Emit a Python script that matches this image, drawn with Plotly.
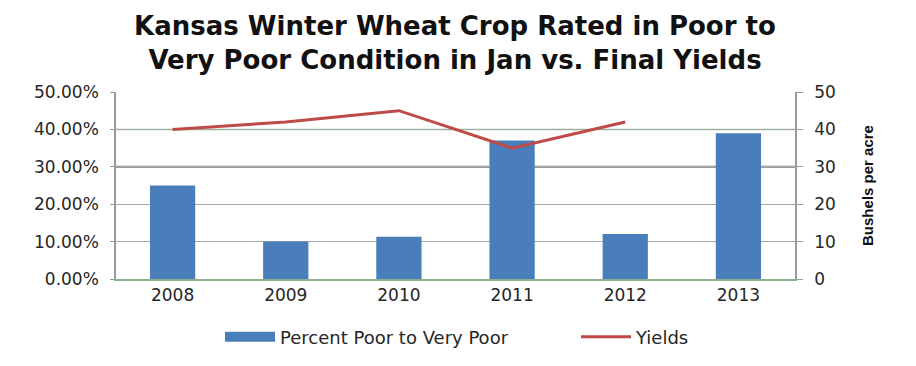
import plotly.graph_objects as go

years = ["2008", "2009", "2010", "2011", "2012", "2013"]
pct_poor = [0.25, 0.10, 0.113, 0.37, 0.12, 0.39]
yield_years = ["2008", "2009", "2010", "2011", "2012"]
yields = [40, 42, 45, 35, 42]

bar_color = "#4a7ebb"
line_color = "#be4b48"

fig = go.Figure()
fig.add_trace(go.Bar(x=years, y=pct_poor, name="Percent Poor to Very Poor",
                     marker=dict(color=bar_color, line=dict(width=0)), width=0.4,
                     showlegend=False))
# legend swatch for the bars (wide rectangle as in the reference)
fig.add_trace(go.Scatter(x=[None], y=[None],
                         name="Percent Poor to Very Poor" + "\u00a0" * 11, mode="lines",
                         line=dict(color=bar_color, width=11), showlegend=True))
fig.add_trace(go.Scatter(x=yield_years, y=yields, name="Yields", yaxis="y2",
                         mode="lines", line=dict(color=line_color, width=3)))

# gridline styling quirks of the original (greenish 40% line, darker 30% line)
fig.add_hline(y=0.4, line=dict(color="#9cc89c", width=1.5), layer="below")
fig.add_hline(y=0.3, line=dict(color="#7f7f7f", width=2), layer="below")

font = "DejaVu Sans"
fs = 17
# page body has an 8px margin, so margins are shifted by 8px
fig.update_layout(
    width=916, height=366,
    paper_bgcolor="white", plot_bgcolor="white",
    margin=dict(l=108, r=129, t=84, b=95, autoexpand=False),
    title=dict(text="<b>Kansas Winter Wheat Crop Rated in Poor to<br>Very Poor Condition in Jan vs. Final Yields</b>",
               x=0.488, xanchor="center", y=0.926, yanchor="top",
               font=dict(family=font, size=26, color="#111111")),
    font=dict(family=font, size=fs, color="#262626"),
    xaxis=dict(showline=True, linecolor="#8fb08f", linewidth=1.5, ticks="",
               tickfont=dict(size=fs)),
    yaxis=dict(range=[0, 0.5], tickformat=".2%", dtick=0.1, showgrid=True,
               gridcolor="#a6a6a6", gridwidth=1, showline=True, linecolor="#9a9a9a",
               linewidth=1.5, ticks="outside", ticklen=4, tickcolor="#9a9a9a",
               zeroline=False, tickfont=dict(size=fs), ticklabelstandoff=8),
    yaxis2=dict(range=[0, 50], dtick=10, overlaying="y", side="right", showgrid=False,
                showline=True, linecolor="#9a9a9a", linewidth=1.5, ticks="outside",
                ticklen=6, tickcolor="#9a9a9a", zeroline=False,
                tickfont=dict(size=fs), ticklabelstandoff=8,
                title=dict(text="<b>Bushels per acre</b>", standoff=28,
                           font=dict(family="Liberation Sans Narrow, Liberation Sans", size=15, color="#111111"))),
    legend=dict(orientation="h", x=0.503, xanchor="center", y=-0.212, yanchor="top",
                font=dict(size=18), traceorder="normal", itemwidth=50),
    showlegend=True,
)
fig.write_html("out.html")
